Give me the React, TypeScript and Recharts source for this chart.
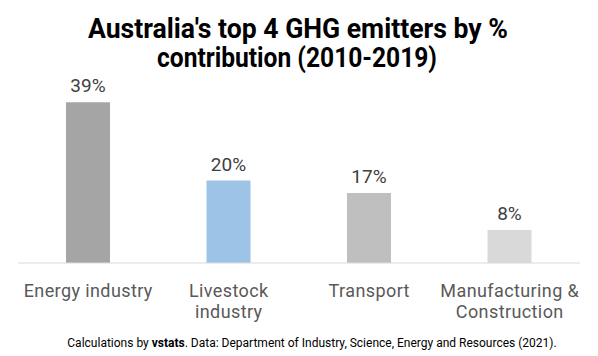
import React from "react";
import { BarChart, Bar, XAxis, YAxis, Cell, LabelList } from "recharts";

const categories = ["Energy industry", "Livestock industry", "Transport", "Manufacturing & Construction"];
const tickLines = [["Energy industry"], ["Livestock", "industry"], ["Transport"], ["Manufacturing &", "Construction"]];
const values = [39, 20, 17, 8];
const colors = ["#a5a5a5", "#9dc3e6", "#bfbfbf", "#d9d9d9"];
const titleLines = ["Australia's top 4 GHG emitters by %", "contribution (2010-2019)"];

const data = categories.map((c, i) => ({ name: c, value: values[i], idx: i }));

const FONT = "Roboto, 'DejaVu Sans', sans-serif";

const Tick = (props: any) => {
  const { x, y, payload } = props;
  const idx = categories.indexOf(payload.value);
  const lines = tickLines[idx] || [payload.value];
  return (
    <g>
      {lines.map((l, i) => (
        <text key={i} x={x} y={y + 26 + i * 21} textAnchor="middle" fill="#595959" fontSize={18} fontFamily={FONT} letterSpacing={0.4}>
          {l}
        </text>
      ))}
    </g>
  );
};

export default function App() {
  return (
    <div style={{ position: "relative", width: 598, height: 356, background: "#fff" }}>
      <style>{`body{margin:0}`}</style>
      <BarChart width={598} height={356} data={data} margin={{ top: 98, right: 18, left: 18, bottom: 33 }}>
        <XAxis dataKey="name" height={60} axisLine={{ stroke: "#d9d9d9" }} tickLine={false} tick={<Tick />} interval={0} />
        <YAxis hide domain={[0, 40]} />
        <Bar dataKey="value" barSize={44} isAnimationActive={false}>
          {data.map((d, i) => (
            <Cell key={i} fill={colors[i]} />
          ))}
          <LabelList dataKey="value" position="top" offset={10} formatter={(v: any) => `${v}%`} fill="#404040" fontSize={19} fontFamily={FONT} />
        </Bar>
      </BarChart>
      <svg width={598} height={356} style={{ position: "absolute", left: 0, top: 0, pointerEvents: "none" }}>
        <text x={298} y={38} textAnchor="middle" fontSize={27} fontWeight="bold" fontFamily={FONT} fill="#000" textLength={420} lengthAdjust="spacingAndGlyphs">
          {titleLines[0]}
        </text>
        <text x={297} y={67} textAnchor="middle" fontSize={27} fontWeight="bold" fontFamily={FONT} fill="#000" textLength={280} lengthAdjust="spacingAndGlyphs">
          {titleLines[1]}
        </text>
        <text x={312} y={347} textAnchor="middle" fontSize={12} fontFamily={FONT} fill="#000">
          Calculations by <tspan fontWeight="bold">vstats</tspan>. Data: Department of Industry, Science, Energy and Resources (2021).
        </text>
      </svg>
    </div>
  );
}
